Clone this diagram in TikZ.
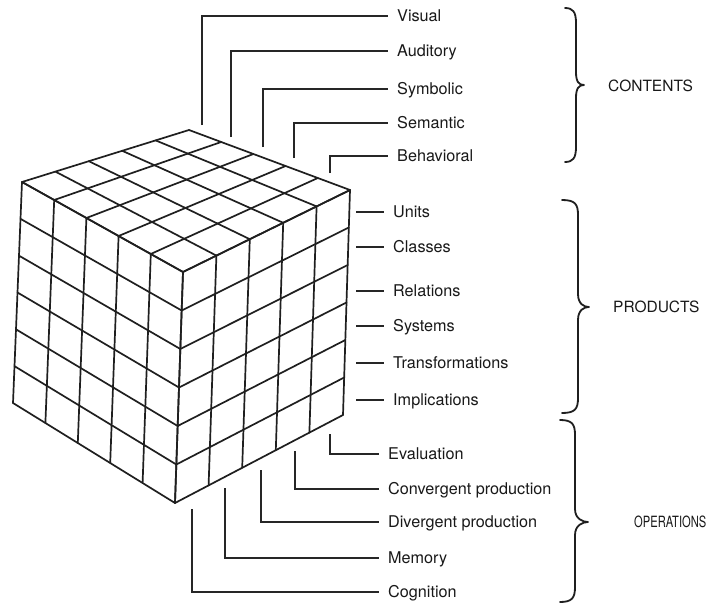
\documentclass[tikz,border=0pt]{standalone}
\usepackage{fontspec}
\usepackage{graphicx}
\setmainfont{TeX Gyre Heros}
\usetikzlibrary{calc}

% curly brace opening to the left: x-end, x-spine, x-tip, y-top, y-tip, y-bottom
\newcommand{\drawcurly}[6]{%
  \draw[bracestroke] (#1,#4) .. controls (#2-3,#4) and (#2,#4+4) .. (#2,#4+15)
    -- (#2,#5-13) .. controls (#2,#5-3) and (#3-5,#5) .. (#3,#5)
    .. controls (#3-5,#5) and (#2,#5+3) .. (#2,#5+13)
    -- (#2,#6-15) .. controls (#2,#6-4) and (#2-3,#6) .. (#1,#6);}

\begin{document}
\begin{tikzpicture}[x=1pt,y=-1pt,
  grid/.style={line width=1.7pt, line cap=round, line join=round, draw=black!88},
  leader/.style={line width=1.3pt, draw=black!85},
  lbl/.style={anchor=west, inner xsep=9pt, inner ysep=0pt, text height=11.5pt, text depth=0pt,
              font=\fontsize{16.2}{19}\selectfont, text=black!90},
  cat/.style={anchor=west, inner sep=0pt, font=\fontsize{15.5}{18}\selectfont, text=black!90},
  bracestroke/.style={line width=1.8pt, line cap=round, line join=round, draw=black!88}]
\useasboundingbox (0,0) rectangle (710,605);
\fill[white] (0,0) rectangle (710,605);

% cube corners
\coordinate (B)  at (189,130);
\coordinate (L)  at (22,182);
\coordinate (R)  at (350,190);
\coordinate (F)  at (183,272);
\coordinate (Lb) at (13,403);
\coordinate (Fb) at (175,503);
\coordinate (Rb) at (343,415);

% top face: 5 x 5 cells
\foreach \i in {0,...,5} {
  \draw[grid] ($(B)!\i/5!(R)$) -- ($(L)!\i/5!(F)$);
  \draw[grid] ($(B)!\i/5!(L)$) -- ($(R)!\i/5!(F)$);
}
% left face: 5 columns x 6 rows
\foreach \i in {0,...,5} \draw[grid] ($(L)!\i/5!(F)$) -- ($(Lb)!\i/5!(Fb)$);
\foreach \j in {0,...,6} \draw[grid] ($(L)!\j/6!(Lb)$) -- ($(F)!\j/6!(Fb)$);
% right face: 5 columns x 6 rows
\foreach \i in {0,...,5} \draw[grid] ($(F)!\i/5!(R)$) -- ($(Fb)!\i/5!(Rb)$);
\foreach \j in {0,...,6} \draw[grid] ($(F)!\j/6!(Fb)$) -- ($(R)!\j/6!(Rb)$);

% contents
\coordinate (cVis) at (202,125);
\coordinate (cAud) at (231,137);
\coordinate (cSym) at (263,147);
\coordinate (cSem) at (294,158);
\coordinate (cBeh) at (330,173);
\node[lbl] (lVis) at (388,16)  {Visual};
\node[lbl] (lAud) at (388,51)  {Auditory};
\node[lbl] (lSym) at (388,89)  {Symbolic};
\node[lbl] (lSem) at (388,123) {Semantic};
\node[lbl] (lBeh) at (388,156) {Behavioral};
\draw[leader] (cVis) |- (lVis.west);
\draw[leader] (cAud) |- (lAud.west);
\draw[leader] (cSym) |- (lSym.west);
\draw[leader] (cSem) |- (lSem.west);
\draw[leader] (cBeh) |- (lBeh.west);

% products
\node[lbl] (lUni) at (384,212) {Units};
\node[lbl] (lCla) at (384,247) {Classes};
\node[lbl] (lRel) at (384,291) {Relations};
\node[lbl] (lSys) at (384,326) {Systems};
\node[lbl] (lTra) at (384,363) {Transformations};
\node[lbl] (lImp) at (384,400) {Implications};
\foreach \n in {Uni,Cla,Rel,Sys,Tra,Imp}
  \draw[leader] ($(l\n.west)+(-28,0)$) coordinate (c\n) -- (l\n.west);

% operations
\coordinate (cEva) at (330,434);
\coordinate (cCon) at (295,451);
\coordinate (cDiv) at (261,470);
\coordinate (cMem) at (225,488);
\coordinate (cCog) at (192,509);
\node[lbl] (lEva) at (379,454) {Evaluation};
\node[lbl] (lCon) at (379,489) {Convergent production};
\node[lbl] (lDiv) at (379,522) {Divergent production};
\node[lbl] (lMem) at (379,558) {Memory};
\node[lbl] (lCog) at (379,592) {Cognition};
\draw[leader] (cEva) |- (lEva.west);
\draw[leader] (cCon) |- (lCon.west);
\draw[leader] (cDiv) |- (lDiv.west);
\draw[leader] (cMem) |- (lMem.west);
\draw[leader] (cCog) |- (lCog.west);

% braces and group names
\drawcurly{565}{576}{584}{8}{85}{162}
\drawcurly{562}{578}{589}{200}{307}{413}
\drawcurly{560}{575}{588}{420}{522}{602}
\node[cat] (gCon) at (608,86)  {CONTENTS};
\node[cat] (gPro) at (613,307) {PRODUCTS};
\node[cat] (gOpe) at (634,522) {\scalebox{0.72}[1]{OPERATIONS}};
\end{tikzpicture}
\end{document}
